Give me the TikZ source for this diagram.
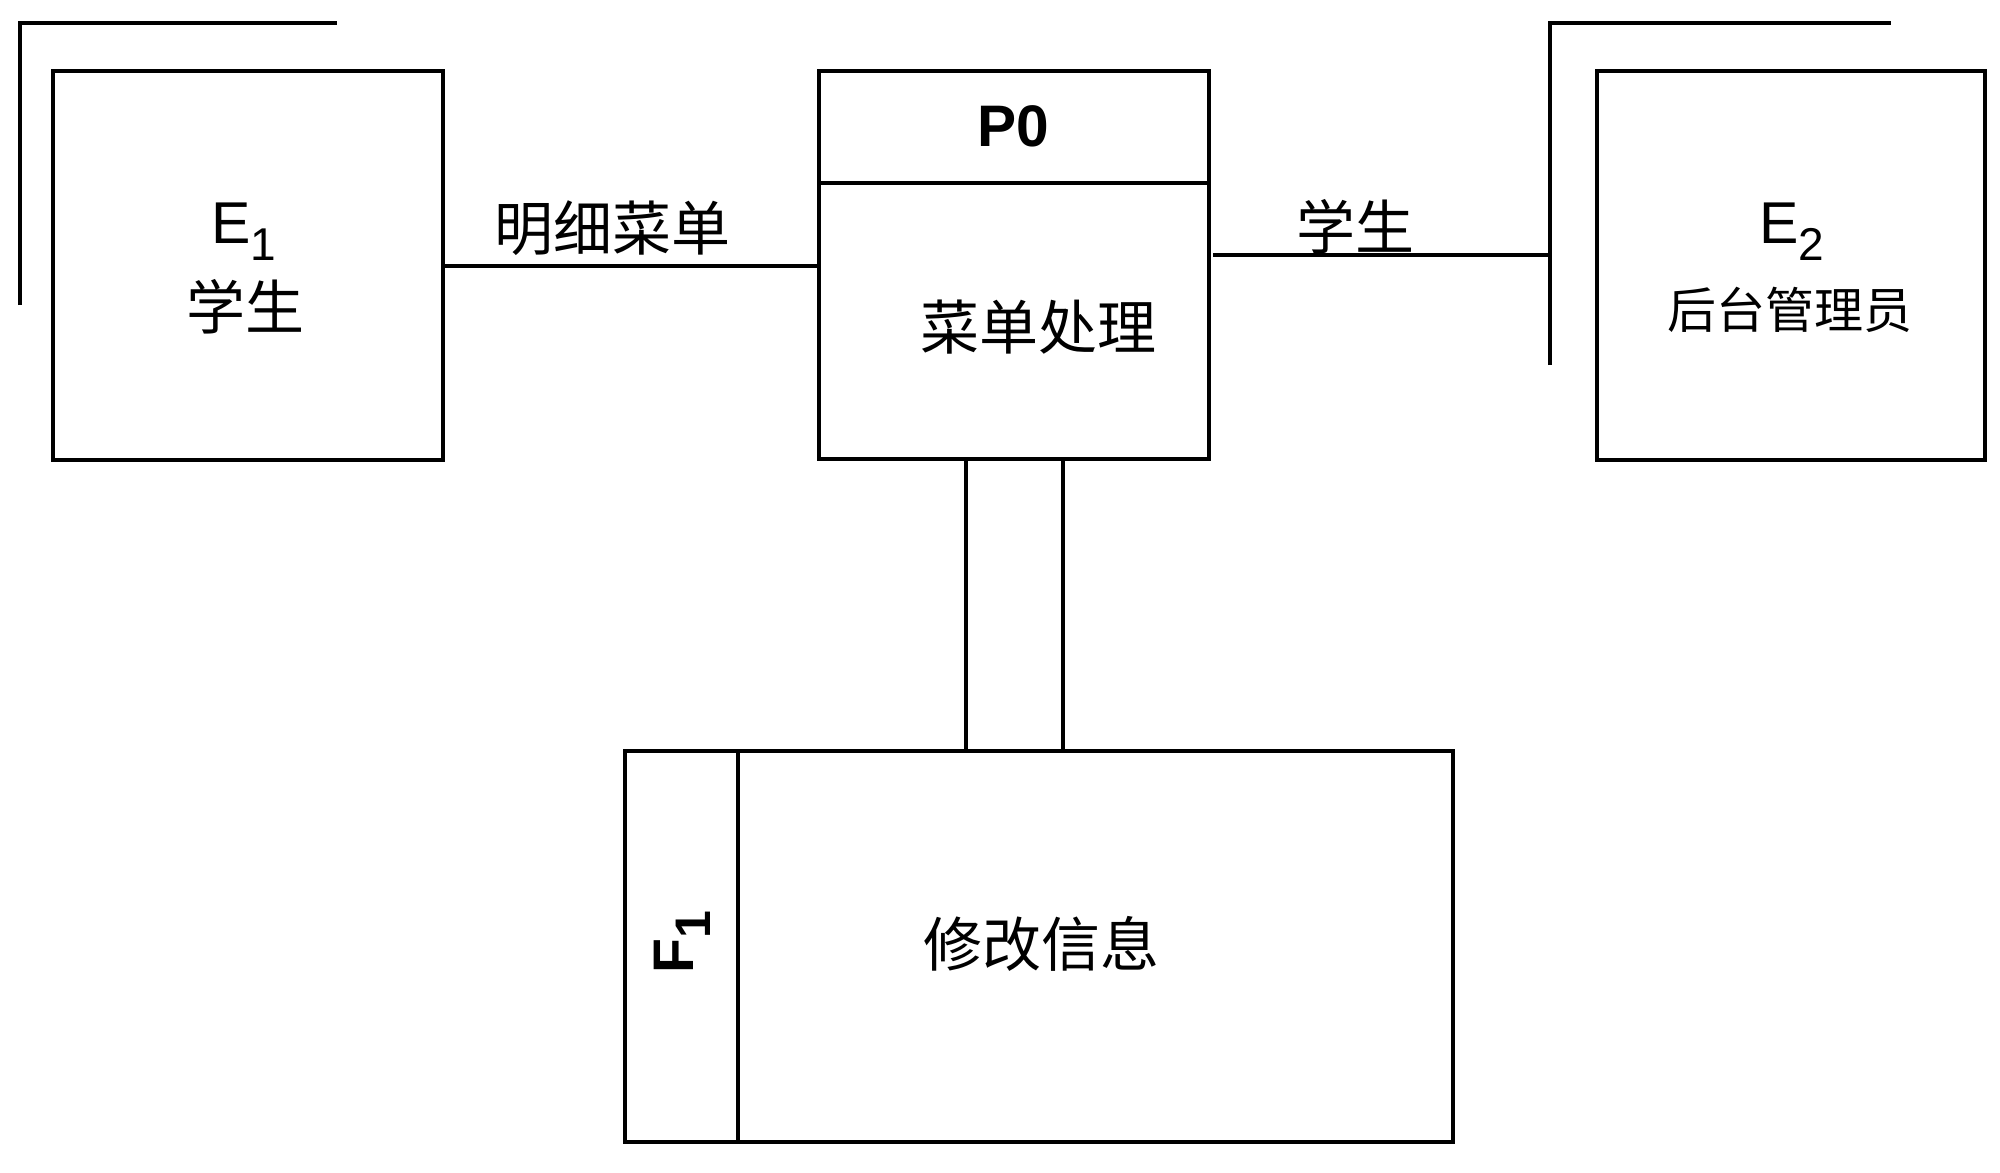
\documentclass[tikz,border=0pt]{standalone}
\usepackage{fontspec}
\setmainfont{Liberation Sans}
\newfontfamily\cjk{Noto Sans CJK SC}
\begin{document}
\begin{tikzpicture}[x=0.5pt,y=-0.5pt,
  boxnode/.style={draw, line width=2.4pt, inner sep=0pt, outer sep=0pt, shape=rectangle},
  conn/.style={line width=2pt},
  cjklabel/.style={inner sep=0pt, font=\cjk\fontsize{29.5pt}{32pt}\selectfont},
  latlabel/.style={inner sep=0pt, font=\fontsize{29.5pt}{32pt}\selectfont, anchor=base}]
\fill[white] (0,0) rectangle (2000,1172);
\useasboundingbox (0,0) rectangle (2000,1172);

% boxes
\node[boxnode, minimum width=195pt, minimum height=194.5pt] (E1) at (248,265.5) {};
\node[boxnode, minimum width=195pt, minimum height=194pt] (P0) at (1014,265) {};
\node[boxnode, minimum width=194pt, minimum height=194.5pt] (E2) at (1791,265.5) {};
\node[boxnode, minimum width=414pt, minimum height=195.5pt] (F1) at (1039,946.5) {};

% dividers
\draw[line width=2.4pt] ([yshift=-56pt]P0.north west) -- ([yshift=-56pt]P0.north east);
\draw[line width=2.4pt] ([xshift=56.5pt]F1.north west) -- ([xshift=56.5pt]F1.south west);

% duplicate-entity marks
\coordinate (e1bot) at (20,305);
\coordinate (e1top) at (20,23);
\coordinate (e1end) at (337,23);
\draw[line width=2.2pt] (e1bot) -- (e1top) -- (e1end);
\coordinate (e2bot) at (1550,365);
\coordinate (e2top) at (1550,23);
\coordinate (e2end) at (1891,23);
\draw[line width=2.2pt] (e2bot) -- (e2top) -- (e2end);

% connectors
\draw[conn] (E1.east) -- (E1.east -| P0.west);
\draw[conn] ([xshift=2pt,yshift=5pt]P0.east) -- ([yshift=5pt]P0.east -| e2top);
\draw[conn] ([xshift=-24pt]P0.south) -- ([xshift=-24pt]P0.south |- F1.north);
\draw[conn] ([xshift=24.5pt]P0.south) -- ([xshift=24.5pt]P0.south |- F1.north);

% texts
\node[latlabel] (t1) at (244,243) {E\raisebox{-8.5pt}{\fontsize{23pt}{23pt}\selectfont 1}};
\node[cjklabel] (t2) at (245,307) {学生};
\node[inner sep=0pt, anchor=base, font=\bfseries\fontsize{29.3pt}{32pt}\selectfont] (t3) at (1013,147) {P0};
\node[cjklabel] (t4) at (1038,327) {菜单处理};
\node[cjklabel] (t5) at (612,228) {明细菜单};
\node[cjklabel] (t6) at (1355,227) {学生};
\node[latlabel] (t7) at (1792,243) {E\raisebox{-8.5pt}{\fontsize{23pt}{23pt}\selectfont 2}};
\node[inner sep=0pt, font=\cjk\fontsize{24.5pt}{28pt}\selectfont] (t8) at (1790,310) {后台管理员};
\node[cjklabel] (t9) at (1041,944) {修改信息};
\node[inner sep=0pt, rotate=90, font=\bfseries\fontsize{28.6pt}{30pt}\selectfont] (t10) at (682,942) {F\raisebox{-8.5pt}{\fontsize{25pt}{25pt}\selectfont 1}};
\end{tikzpicture}
\end{document}
